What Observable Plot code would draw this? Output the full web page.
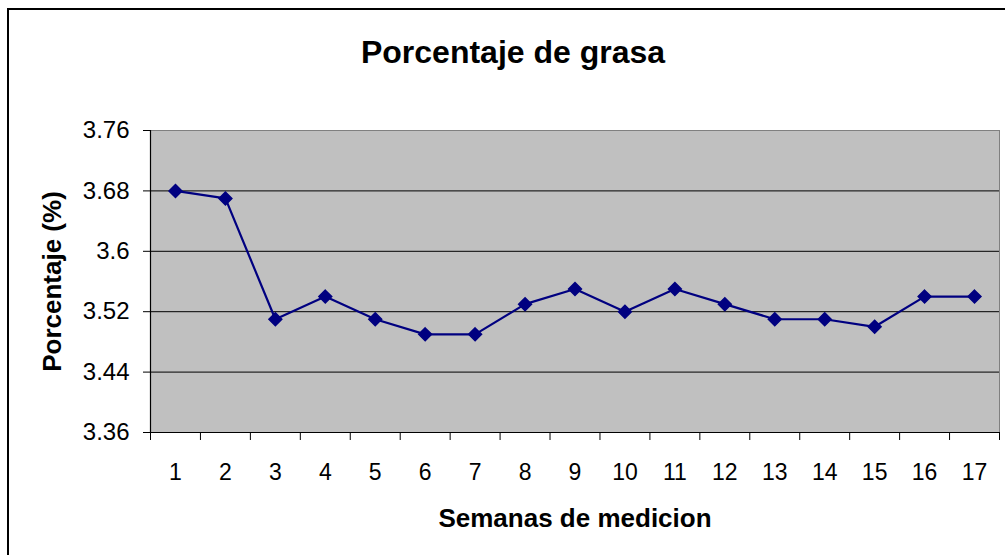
<!DOCTYPE html>
<html>
<head>
<meta charset="utf-8">
<script src="https://cdn.jsdelivr.net/npm/d3@7"></script>
<script src="https://cdn.jsdelivr.net/npm/@observablehq/plot@0.6"></script>
<style>
  html, body { margin: 0; padding: 0; background: #fff; }
  #wrap { position: relative; width: 1005px; height: 555px; overflow: hidden; }
  #border { position: absolute; left: 7px; top: 8px; width: 1020px; height: 580px;
            border-left: 2.5px solid #000; border-top: 2.5px solid #000; box-sizing: border-box; }
  #chart { position: absolute; left: 0; top: 0; }
</style>
</head>
<body>
<div id="wrap"><div id="border"></div><div id="chart"></div></div>
<script>
const title = "Porcentaje de grasa";
const xTitle = "Semanas de medicion";
const yTitle = "Porcentaje (%)";
const weeks = [1, 2, 3, 4, 5, 6, 7, 8, 9, 10, 11, 12, 13, 14, 15, 16, 17];
const fat = [3.68, 3.67, 3.51, 3.54, 3.51, 3.49, 3.49, 3.53, 3.55, 3.52, 3.55, 3.53, 3.51, 3.51, 3.50, 3.54, 3.54];
const yTicks = [3.36, 3.44, 3.52, 3.6, 3.68, 3.76];
const yGrid = [3.44, 3.52, 3.6, 3.68];

const data = weeks.map((w, i) => ({week: w, value: fat[i]}));
const bounds = weeks.map(w => w - 0.5).concat([weeks[weeks.length - 1] + 0.5]);
const font = "'Liberation Sans', Arial, sans-serif";

const chart = Plot.plot({
  width: 1005,
  height: 555,
  marginLeft: 150,
  marginRight: 6,
  marginTop: 130,
  marginBottom: 123,
  style: {fontFamily: font, background: "transparent", overflow: "visible"},
  x: {domain: [bounds[0], bounds[bounds.length - 1]], axis: null},
  y: {domain: [3.36, 3.76], axis: null},
  marks: [
    Plot.frame({fill: "#c0c0c0", stroke: "#808080"}),
    Plot.ruleY(yGrid, {stroke: "#000", strokeWidth: 1}),
    Plot.ruleX([bounds[0]], {stroke: "#000", strokeWidth: 1.2}),
    Plot.ruleY([3.36], {stroke: "#000", strokeWidth: 1.2}),
    Plot.axisY({ticks: yTicks, tickFormat: d => String(d), tickSize: 7, tickPadding: 14,
                fontSize: 24, label: null, stroke: "#000"}),
    Plot.axisX({ticks: bounds, tickFormat: () => "", tickSize: 8, label: null, stroke: "#000"}),
    Plot.axisX({ticks: weeks, tickFormat: d => String(d), tickSize: 0, tickPadding: 31,
                fontSize: 23, label: null}),
    Plot.line(data, {x: "week", y: "value", stroke: "#000080", strokeWidth: 2.2}),
    Plot.dot(data, {x: "week", y: "value", symbol: "diamond2", r: 5.8, fill: "#000080",
                    stroke: "#000080", strokeWidth: 1.5}),
    Plot.text([title], {frameAnchor: "top", dx: -62, dy: -78, fontSize: 32, fontWeight: "bold",
                        textAnchor: "middle", lineAnchor: "middle", fill: "#000", fontFamily: font}),
    Plot.text([xTitle], {frameAnchor: "bottom", dy: 86, fontSize: 26, fontWeight: "bold",
                         textAnchor: "middle", lineAnchor: "middle", fill: "#000", fontFamily: font}),
    Plot.text([yTitle], {frameAnchor: "left", dx: -98, rotate: -90, fontSize: 26, fontWeight: "bold",
                         textAnchor: "middle", lineAnchor: "middle", fill: "#000", fontFamily: font})
  ]
});
document.getElementById("chart").appendChild(chart);
</script>
</body>
</html>
